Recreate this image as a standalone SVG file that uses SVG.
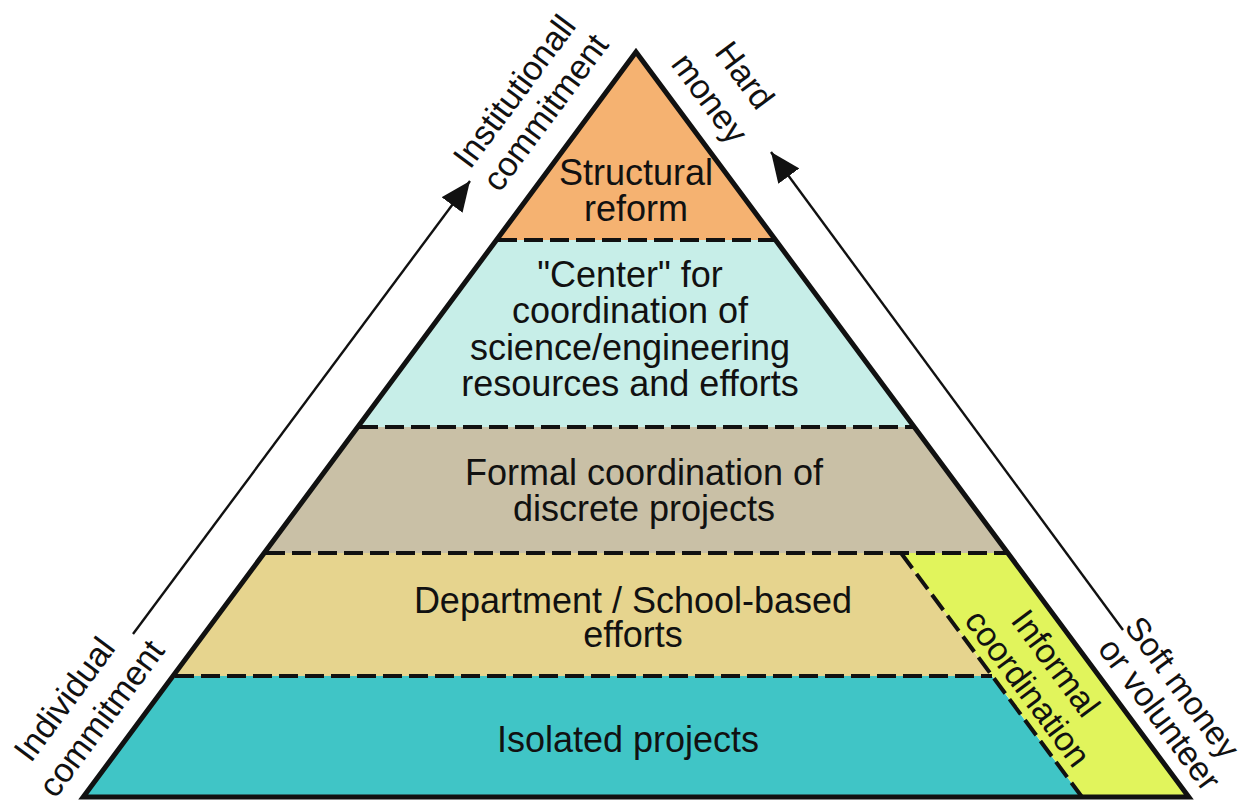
<svg xmlns="http://www.w3.org/2000/svg" width="1247" height="802" viewBox="0 0 1247 802">
<style>
.t{font-family:"Liberation Sans",Arial,sans-serif;font-size:36px;fill:#111;text-anchor:middle}
.r{font-family:"Liberation Sans",Arial,sans-serif;font-size:34px;fill:#111;text-anchor:middle}
.dash{stroke:#111;stroke-width:4;stroke-dasharray:19 7;fill:none}
.arr{stroke:#111;stroke-width:2.4;fill:none}
</style>
<defs>
<marker id="ah2" viewBox="0 0 30 26" refX="30" refY="13" markerWidth="30" markerHeight="26" markerUnits="userSpaceOnUse" orient="auto">
<path d="M0,0 L30,13 L0,26 Z" fill="#111"/>
</marker>
</defs>
<rect width="1247" height="802" fill="#fff"/>
<g id="layer-structural">
<polygon points="636,52 775.5,240 496.5,240" fill="#F5B271"/>
<text class="t" x="636" y="185">Structural</text>
<text class="t" x="636" y="221">reform</text>
</g>
<g id="layer-center">
<polygon points="496.5,240 775.5,240 914.3,427 357.7,427" fill="#C7EEE8"/>
<text class="t" x="630" y="287">"Center" for</text>
<text class="t" x="630" y="323">coordination of</text>
<text class="t" x="630" y="360">science/engineering</text>
<text class="t" x="630" y="396">resources and efforts</text>
</g>
<g id="layer-formal">
<polygon points="357.7,427 914.3,427 1007.7,553 264.3,553" fill="#C9C0A6"/>
<text class="t" x="644" y="485">Formal coordination of</text>
<text class="t" x="644" y="521">discrete projects</text>
</g>
<g id="layer-department">
<polygon points="264.3,553 901,553 992,676 173,676" fill="#E6D48E"/>
<text class="t" x="633" y="613">Department / School-based</text>
<text class="t" x="633" y="647">efforts</text>
</g>
<g id="layer-isolated">
<polygon points="173,676 992,676 1082,797 83.2,797" fill="#40C5C6"/>
<text class="t" x="628" y="752">Isolated projects</text>
</g>
<g id="informal">
<polygon points="901,553 1007.7,553 1188.8,797 1082,797" fill="#E1F45C"/>
<text class="r" transform="translate(1056,663) rotate(53.4)" y="12">Informal</text>
<text class="r" transform="translate(1028,688) rotate(53.4)" y="12">coordination</text>
</g>
<g id="connectors">
<line class="dash" x1="498" y1="240" x2="774" y2="240"/>
<line class="dash" x1="359" y1="427" x2="913" y2="427"/>
<line class="dash" x1="266" y1="553" x2="1006" y2="553"/>
<line class="dash" x1="175" y1="676" x2="992" y2="676"/>
<line class="dash" x1="901" y1="553" x2="1082" y2="797"/>
<line class="arr" x1="133" y1="634" x2="470" y2="181" marker-end="url(#ah2)"/>
<line class="arr" x1="1123" y1="630" x2="771" y2="152" marker-end="url(#ah2)"/>
</g>
<g id="outline">
<polygon points="636,52 1188.8,797 83.2,797" fill="none" stroke="#111" stroke-width="5" stroke-linejoin="miter"/>
</g>
<g id="labels">
<text class="r" transform="translate(64,699) rotate(-53.4)" y="12">Individual</text>
<text class="r" transform="translate(101,718) rotate(-53.4)" y="12">commitment</text>
<text class="r" transform="translate(514,91) rotate(-53.4)" y="12">Institutionall</text>
<text class="r" transform="translate(545,112) rotate(-53.4)" y="12">commitment</text>
<text class="r" transform="translate(745,75) rotate(53.4)" y="12">Hard</text>
<text class="r" transform="translate(710,98) rotate(53.4)" y="12">money</text>
<text class="r" transform="translate(1183,687) rotate(53.4)" y="12" style="font-size:33px">Soft money</text>
<text class="r" transform="translate(1160,714) rotate(53.4)" y="12">or volunteer</text>
</g>
</svg>
